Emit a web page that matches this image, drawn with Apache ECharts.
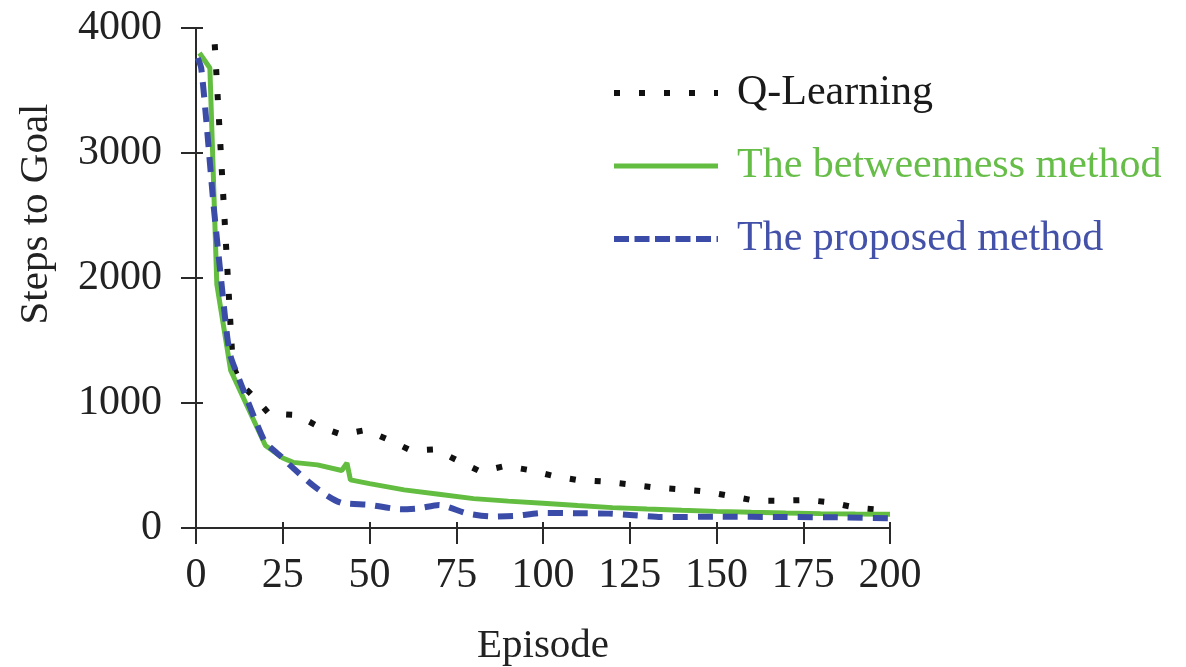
<!DOCTYPE html>
<html>
<head>
<meta charset="utf-8">
<script src="https://cdn.jsdelivr.net/npm/echarts@6.0.0/dist/echarts.min.js"></script>
<style>
  html, body { margin: 0; padding: 0; background: #ffffff; }
  #chart { width: 1186px; height: 667px; }
</style>
</head>
<body>
<div id="chart"></div>
<script>
// Episode ticks and value ticks
const xTicks = [0, 25, 50, 75, 100, 125, 150, 175, 200];
const yTicks = [0, 1000, 2000, 3000, 4000];

// Q-Learning: steps to goal per episode
const qEpisodes = [5.4, 10.6, 13, 17, 21, 29, 35, 42, 49, 56, 62, 69, 76, 82, 89, 96, 103, 110, 118, 125, 132, 140, 147, 154, 161, 168, 176, 183, 190, 200];
const qSteps    = [3870, 1300, 1150, 1040, 915, 904, 816, 747, 784, 699, 619, 629, 531, 451, 496, 464, 416, 384, 371, 349, 325, 309, 291, 256, 219, 219, 224, 205, 163, 140];

// The betweenness method
const btEpisodes = [1, 4, 6, 10, 20, 25, 28, 35, 42, 43.5, 44.5, 50, 60, 70, 80, 90, 100, 110, 120, 130, 140, 150, 160, 170, 180, 190, 200];
const btSteps    = [3800, 3680, 1950, 1260, 660, 560, 525, 505, 460, 520, 385, 355, 305, 270, 235, 215, 198, 180, 163, 152, 142, 133, 126, 120, 115, 112, 110];

// The proposed method
const prEpisodes = [0.5, 1.5, 3, 5, 7, 9, 10, 13, 17, 20, 25, 27, 33, 38, 42, 50, 59, 64, 70, 78, 85, 92, 100, 110, 119, 126, 134, 150, 170, 185, 200];
const prSteps    = [3760, 3680, 3250, 2600, 2050, 1530, 1370, 1150, 870, 685, 560, 505, 357, 255, 200, 185, 150, 157, 185, 117, 92, 97, 120, 118, 115, 102, 88, 90, 88, 85, 78];

const seriesNames = ['Q-Learning', 'The betweenness method', 'The proposed method'];

const pairs = (xs, ys) => xs.map((x, i) => [x, ys[i]]);

const FONT = "'Liberation Serif', 'Times New Roman', serif";
const INK = '#222222';
const AXIS = '#2a2a2a';
const GREEN = '#63bd40';
const BLUE = '#3b4ca8';
const BLACK = '#111111';

const xMin = xTicks[0], xMax = xTicks[xTicks.length - 1], xStep = xTicks[1] - xTicks[0];
const yMin = yTicks[0], yMax = yTicks[yTicks.length - 1], yStep = yTicks[1] - yTicks[0];

// Two axes per direction share one scale: the first carries the line, the outer
// ticks and the labels, the second adds short inner ticks so ticks cross the axis.
const innerTicks = (len) => ({ show: true, inside: true, length: len, lineStyle: { color: AXIS, width: 2 } });

const chart = echarts.init(document.getElementById('chart'), null, { renderer: 'canvas' });

chart.setOption({
  backgroundColor: '#ffffff',
  animation: false,
  grid: { left: 196, right: 296, top: 28, bottom: 139, containLabel: false, outerBoundsMode: 'none' },
  legend: {
    orient: 'vertical',
    left: 606,
    top: 67,
    itemWidth: 104,
    itemHeight: 12,
    itemGap: 31,
    selectedMode: false,
    itemStyle: { opacity: 0 },
    textStyle: { fontFamily: FONT, fontSize: 42, color: INK, padding: [0, 0, 0, 14] },
    data: [
      { name: seriesNames[0], textStyle: { color: '#1a1a1a' }, lineStyle: { width: 6, type: [6, 19], cap: 'butt', color: BLACK } },
      { name: seriesNames[1], textStyle: { color: '#66bd48' }, lineStyle: { width: 5, type: 'solid', color: GREEN } },
      { name: seriesNames[2], textStyle: { color: '#4352a8' }, lineStyle: { width: 6, type: [15, 5.5], cap: 'butt', color: BLUE } }
    ]
  },
  xAxis: [
    {
      type: 'value', min: xMin, max: xMax, interval: xStep,
      name: 'Episode', nameLocation: 'middle', nameGap: 98,
      nameTextStyle: { fontFamily: FONT, fontSize: 41, color: INK },
      axisLine: { show: true, lineStyle: { color: AXIS, width: 2 } },
      axisTick: { show: true, inside: false, length: 16, lineStyle: { color: AXIS, width: 2 } },
      axisLabel: { fontFamily: FONT, fontSize: 42, color: INK, margin: 27 },
      splitLine: { show: false }
    },
    {
      type: 'value', min: xMin, max: xMax, interval: xStep, position: 'bottom', offset: 0,
      axisLine: { show: false },
      axisTick: innerTicks(6),
      axisLabel: { show: false },
      splitLine: { show: false }
    }
  ],
  yAxis: [
    {
      type: 'value', min: yMin, max: yMax, interval: yStep,
      name: 'Steps to Goal', nameLocation: 'middle', nameGap: 139, nameRotate: 90,
      nameTextStyle: { fontFamily: FONT, fontSize: 41, color: INK, padding: [0, 0, 0, 128] },
      axisLine: { show: true, lineStyle: { color: AXIS, width: 2 } },
      axisTick: { show: true, inside: false, length: 15, lineStyle: { color: AXIS, width: 2 } },
      axisLabel: { fontFamily: FONT, fontSize: 42, color: INK, margin: 34, formatter: (v) => String(v) },
      splitLine: { show: false }
    },
    {
      type: 'value', min: yMin, max: yMax, interval: yStep, position: 'left', offset: 0,
      axisLine: { show: false },
      axisTick: innerTicks(7),
      axisLabel: { show: false },
      splitLine: { show: false }
    }
  ],
  series: [
    {
      name: seriesNames[0], type: 'line', xAxisIndex: 1, yAxisIndex: 1,
      data: pairs(qEpisodes, qSteps),
      showSymbol: false, symbol: 'none', z: 2,
      lineStyle: { color: BLACK, width: 6, type: [6, 19], cap: 'butt' },
      itemStyle: { color: BLACK }
    },
    {
      name: seriesNames[1], type: 'line', xAxisIndex: 0, yAxisIndex: 0,
      data: pairs(btEpisodes, btSteps),
      showSymbol: false, symbol: 'none', z: 3,
      lineStyle: { color: GREEN, width: 5 },
      itemStyle: { color: GREEN }
    },
    {
      name: seriesNames[2], type: 'line', xAxisIndex: 0, yAxisIndex: 0,
      data: pairs(prEpisodes, prSteps),
      showSymbol: false, symbol: 'none', smooth: 0.2, z: 4,
      lineStyle: { color: BLUE, width: 6, type: [15, 10], cap: 'butt' },
      itemStyle: { color: BLUE }
    }
  ]
});
</script>
</body>
</html>
